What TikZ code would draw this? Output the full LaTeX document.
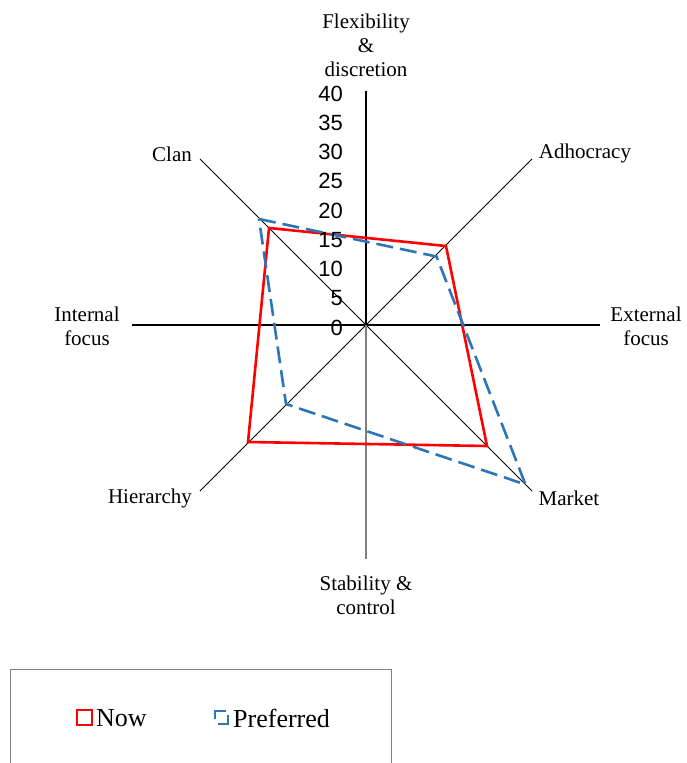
\documentclass[tikz,border=0pt]{standalone}
\usepackage{fontspec}
\setmainfont{Liberation Serif}
\newfontfamily\numfont{Liberation Sans}
\definecolor{nowred}{RGB}{255,0,0}
\definecolor{prefblue}{RGB}{46,117,182}
\definecolor{axisgray}{RGB}{128,128,128}
\begin{document}
\begin{tikzpicture}[x=1pt,y=-1pt,
  lbl/.style={font=\fontsize{21}{24}\selectfont, inner sep=0pt, align=center},
  numlbl/.style={font=\numfont\fontsize{22}{24}\selectfont, inner sep=0pt, anchor=east},
  legtxt/.style={font=\fontsize{26}{28}\selectfont, inner sep=0pt, anchor=west},
  diag/.style={draw=black, line width=0.8pt},
  mainaxis/.style={draw=black, line width=1.6pt},
  lowaxis/.style={draw=axisgray, line width=1.8pt},
  haxis/.style={draw=black, line width=1.2pt},
  nowline/.style={draw=nowred, line width=2.6pt, line join=miter},
  prefline/.style={draw=prefblue, line width=2.6pt, dash pattern=on 17pt off 7pt, line join=miter},
  legbox/.style={draw=axisgray, line width=1pt}
]
\useasboundingbox (0,0) rectangle (686,763);
% axis coordinates
\coordinate (O) at (366,325);
\coordinate (top) at (366,91);
\coordinate (bot) at (366,559);
\coordinate (left) at (132,325);
\coordinate (right) at (600,325);
\coordinate (nw) at (200,159);
\coordinate (ne) at (532,159);
\coordinate (se) at (532,491);
\coordinate (sw) at (200,491);
% axes
\draw[diag] (nw) -- (se);
\draw[diag] (ne) -- (sw);
\draw[haxis] (left) -- (right);
\draw[lowaxis] (O) -- (bot);
\draw[mainaxis] (O) -- (top);
% data points
\coordinate (nC) at (269,228);
\coordinate (nA) at (446,246);
\coordinate (nM) at (487,446);
\coordinate (nH) at (248,442);
\coordinate (pC) at (259,219);
\coordinate (pA) at (436.5,256.5);
\coordinate (pM) at (525.5,484.5);
\coordinate (pH) at (286,404);
\draw[nowline] (nC) -- (nA) -- (nM) -- (nH) -- cycle;
\draw[prefline] (pC) -- (pA) -- (pM) -- (pH) -- cycle;
% scale numbers
\foreach \k in {0,...,8}{
  \pgfmathtruncatemacro{\v}{5*\k}
  \node[numlbl] (num\k) at (343,{327.5-29.25*\k}) {\v};
}
% category labels
\node[lbl] (flex) at (366,45) {Flexibility\\\&\\discretion};
\node[lbl] (clan) at (172,154) {Clan};
\node[lbl] (adho) at (585,153) {Adhocracy};
\node[lbl] (intf) at (87,326) {Internal\\focus};
\node[lbl] (extf) at (646,326) {External\\focus};
\node[lbl] (hier) at (150,498) {Hierarchy};
\node[lbl] (mark) at (569,498) {Market};
\node[lbl] (stab) at (366,595) {Stability \&\\control};
% legend
\draw[legbox] (10,669) rectangle (391,800);
\coordinate (lr1) at (77,710);
\coordinate (lr2) at (92,725);
\draw[draw=nowred, line width=2.4pt] (lr1) rectangle (lr2);
\node[legtxt] (lnow) at (96,718) {Now};
\coordinate (lb1) at (215,719);
\coordinate (lb2) at (215,711);
\coordinate (lb3) at (226,711);
\coordinate (lb4) at (218,724);
\coordinate (lb5) at (228,724);
\coordinate (lb6) at (228,715);
\draw[draw=prefblue, line width=2.4pt] (lb1) -- (lb2) -- (lb3);
\draw[draw=prefblue, line width=2.4pt] (lb4) -- (lb5) -- (lb6);
\node[legtxt] (lpref) at (233,718) {Preferred};
\end{tikzpicture}
\end{document}
